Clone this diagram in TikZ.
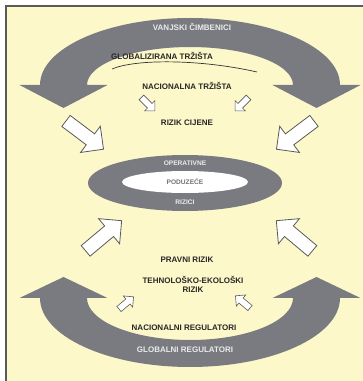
\documentclass[tikz,border=0pt]{standalone}
\usepackage{fontspec}
\setmainfont{Liberation Sans}
\usetikzlibrary{shapes.arrows, shapes.geometric}
\definecolor{paper}{RGB}{253,248,202}
\definecolor{bandgray}{RGB}{121,123,129}
\definecolor{framegray}{RGB}{90,90,90}
\tikzstyle{txt} = [font=\fontsize{8}{9}\selectfont\bfseries, text=black!85, inner sep=1pt, align=center]
\tikzstyle{wtxt} = [txt, text=white!92!black]
\tikzstyle{smalltxt} = [txt, font=\fontsize{6.6}{7.5}\selectfont\bfseries]
\tikzstyle{bigarr} = [single arrow, draw=framegray, fill=white, line width=0.8pt, inner xsep=0pt, inner ysep=6.5pt, minimum height=47pt, single arrow head extend=9.5pt, single arrow head indent=0pt]
\tikzstyle{smallarr} = [single arrow, draw=framegray, fill=white, line width=0.6pt, inner xsep=0pt, inner ysep=3pt, minimum height=19pt, single arrow head extend=4pt, single arrow head indent=0pt]

\begin{document}
\begin{tikzpicture}[x=1pt, y=1pt]
    \useasboundingbox (0,0) rectangle (363,381);
    % paper and frame
    \fill[paper] (6,0) rectangle (363,375);
    \draw[framegray, line width=1.2pt] (6,0) -- (6,375) -- (363,375);

    % upper band (external factors), arrows down
    \fill[bandgray] (40,296) arc[start angle=180, end angle=0, x radius=150, y radius=67]
        -- (360.5,296) -- (316.5,273) -- (272.5,296) -- (293,296)
        arc[start angle=0, end angle=180, x radius=103, y radius=38]
        -- (107.5,296) -- (63.5,273) -- (19.5,296) -- cycle;

    % lower band (regulators), arrows up
    \fill[bandgray] (40,83) arc[start angle=180, end angle=360, x radius=150, y radius=69]
        -- (360.5,83) -- (316.5,104) -- (272.5,83) -- (293,83)
        arc[start angle=360, end angle=180, x radius=103, y radius=42]
        -- (107.5,83) -- (63.5,104) -- (19.5,83) -- cycle;

    % company in the middle
    \node (rizici) [ellipse, fill=bandgray, minimum width=194pt, minimum height=56pt] at (185,198) {};
    \node (poduzece) [ellipse, fill=white, minimum width=126pt, minimum height=22pt] at (185,199) {};

    % texts
    \node (vanjski) [wtxt] at (192,354) {VANJSKI ČIMBENICI};
    \node (global) [txt] at (162,325) {GLOBALIZIRANA TRŽIŠTA};
    \node (nacion) [txt] at (187,295) {NACIONALNA TRŽIŠTA};
    \node (cijene) [txt] at (187,258) {RIZIK CIJENE};
    \node (operat) [smalltxt, text=white!92!black] at (185,218) {OPERATIVNE};
    \node (podtxt) [smalltxt, text=black!55] at (poduzece) {PODUZEĆE};
    \node (riztxt) [smalltxt, text=white!92!black] at (185,179) {RIZICI};
    \node (pravni) [txt] at (187,121) {PRAVNI RIZIK};
    \node (tehno) [txt] at (193,97) {TEHNOLOŠKO-EKOLOŠKI\\RIZIK};
    \node (nacreg) [txt] at (184,53) {NACIONALNI REGULATORI};
    \node (globreg) [wtxt] at (185,31) {GLOBALNI REGULATORI};

    % curved stroke under the global markets
    \draw[black!80, line width=0.7pt] (112,312) .. controls (135,322) and (200,322) .. (257,309);

    % big white arrows towards the company
    \node (arrTL) [bigarr, rotate=-37] at (82,248) {};
    \node (arrTR) [bigarr, rotate=-143] at (298,248) {};
    \node (arrBL) [bigarr, rotate=40] at (101,143) {};
    \node (arrBR) [bigarr, rotate=140] at (297,143) {};

    % small white arrows
    \node (smTL) [smallarr, rotate=-45] at (147,278) {};
    \node (smTR) [smallarr, rotate=-135] at (243,278) {};
    \node (smBL) [smallarr, rotate=40] at (125,77) {};
    \node (smBR) [smallarr, rotate=140] at (244,78) {};
\end{tikzpicture}
\end{document}
